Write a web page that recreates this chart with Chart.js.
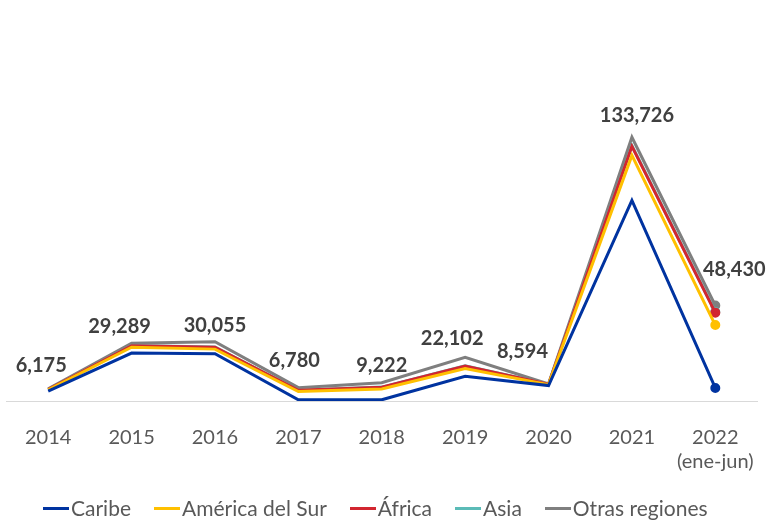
<!DOCTYPE html>
<html>
<head>
<meta charset="utf-8">
<script src="https://cdn.jsdelivr.net/npm/chart.js@4"></script>
<style>
  html, body { margin: 0; padding: 0; background: #fff; }
  #wrap { width: 781px; height: 520px; position: relative; }
  #legend {
    position: absolute; left: 43px; top: 495px;
    display: flex; align-items: center;
    font-family: Lato; font-size: 21px; color: #595959; line-height: 26px;
  }
  #legend .item { display: flex; align-items: center; margin-right: 23px; }
  #legend .swatch { width: 26px; height: 3px; margin-right: 2px; }
</style>
</head>
<body>
<div id="wrap"><canvas id="chart"></canvas><div id="legend"></div></div>
<script>
const years = ['2014', '2015', '2016', '2017', '2018', '2019', '2020', '2021', ['2022', '(ene-jun)']];

// values per region (stacked)
const caribe = [5000, 24300, 24000, 600, 600, 12500, 7800, 101700, 6600];
const americaSur = [700, 3000, 2300, 4200, 5500, 4000, 500, 22800, 31900];
const africa = [200, 700, 1000, 600, 900, 1200, 200, 4600, 6300];
const asia = [50, 100, 100, 50, 50, 100, 30, 400, 300];
const otras = [225, 1189, 2655, 1330, 2172, 4302, 64, 4226, 3330];
const totals = [6175, 29289, 30055, 6780, 9222, 22102, 8594, 133726, 48430];

// label placement relative to the top point (style only)
const labelGap = [23, 17, 16, 27, 17, 19, 33, 22, 36];
const labelShiftX = [-7, -12, 0, -4, 0, -13, -26, 5, 19];

const lastOnly = caribe.map((v, i) => i === caribe.length - 1 ? 3.5 : 0);

function makeSet(label, data, color) {
    return {
        label: label,
        data: data,
        borderColor: color,
        backgroundColor: color,
        borderWidth: 3,
        pointRadius: lastOnly,
        pointHoverRadius: 0,
        fill: false,
        tension: 0
    };
}

const totalLabels = {
    id: 'totalLabels',
    afterDatasetsDraw(chart) {
        const ctx = chart.ctx;
        const meta = chart.getDatasetMeta(chart.data.datasets.length - 1);
        ctx.save();
        ctx.font = 'bold 20px Lato';
        ctx.fillStyle = '#404040';
        ctx.textAlign = 'center';
        ctx.textBaseline = 'middle';
        meta.data.forEach((pt, i) => {
            ctx.fillText(totals[i].toLocaleString('en-US'), pt.x + labelShiftX[i], pt.y - labelGap[i]);
        });
        ctx.restore();
    }
};

const ctx = document.getElementById('chart').getContext('2d');
const chart = new Chart(ctx, {
    type: 'line',
    data: {
        labels: years,
        datasets: [
            makeSet('Caribe', caribe, '#0033A0'),
            makeSet('América del Sur', americaSur, '#FFC000'),
            makeSet('África', africa, '#D22630'),
            makeSet('Asia', asia, '#5BBBB7'),
            makeSet('Otras regiones', otras, '#7F7F7F')
        ]
    },
    options: {
        responsive: true,
        maintainAspectRatio: false,
        animation: false,
        layout: { padding: { left: 5, right: 24, top: 0, bottom: 29 } },
        scales: {
            x: {
                offset: true,
                grid: { display: false },
                border: { display: true, color: '#D9D9D9', width: 1 },
                ticks: {
                    color: '#595959',
                    font: { family: 'Lato', size: 20 },
                    padding: 17,
                    maxRotation: 0,
                    autoSkip: false
                }
            },
            y: {
                stacked: true,
                min: 0,
                max: 200000,
                display: false
            }
        },
        plugins: {
            legend: { display: false },
            tooltip: { enabled: false }
        }
    },
    plugins: [totalLabels]
});

// legend built from the datasets
const legend = document.getElementById('legend');
chart.data.datasets.forEach(ds => {
    const item = document.createElement('div');
    item.className = 'item';
    item.innerHTML = `<span class="swatch" style="background:${ds.borderColor}"></span><span>${ds.label}</span>`;
    legend.appendChild(item);
});
</script>
</body>
</html>
